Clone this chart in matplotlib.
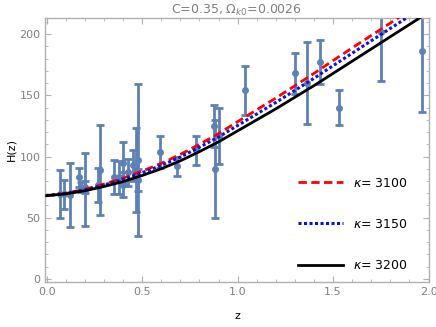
import numpy as np
import matplotlib
matplotlib.use("Agg")
import matplotlib.pyplot as plt

# observational H(z) points (cosmic chronometers)
z_obs = [0.07, 0.09, 0.12, 0.17, 0.179, 0.199, 0.2, 0.27, 0.28, 0.352, 0.3802,
         0.4, 0.4004, 0.4247, 0.4497, 0.47, 0.4783, 0.48, 0.593, 0.68, 0.781,
         0.875, 0.88, 0.9, 1.037, 1.3, 1.363, 1.43, 1.53, 1.75, 1.965]
H_obs = [69, 69, 68.6, 83, 75, 75, 72.9, 77, 88.8, 83, 83,
         95, 77, 87.1, 92.8, 89, 80.9, 97, 104, 92, 105,
         125, 90, 117, 154, 168, 160, 177, 140, 202, 186.5]
H_err = [19.6, 12, 26.2, 8, 4, 5, 29.6, 14, 36.6, 14, 13.5,
         17, 10.2, 11.2, 12.9, 34, 9, 62, 13, 8, 12,
         17, 40, 23, 20, 17, 33.6, 18, 14, 40, 50.4]

# model curves
z_fit = [0.0, 0.1, 0.2, 0.3, 0.4, 0.5, 0.6, 0.7, 0.8, 0.9, 1.0,
         1.1, 1.2, 1.3, 1.4, 1.5, 1.6, 1.7, 1.8, 1.9, 2.0]
H_3100 = [68, 70, 73.2, 77.5, 82.3, 88.1, 94.4, 101.7, 110, 118.8, 128.5,
          138.2, 147.8, 157.9, 168, 178.5, 188.8, 199, 209.2, 219.4, 229.6]
H_3150 = [68, 69.8, 72.7, 76.7, 81.2, 86.7, 92.7, 99.6, 107.6, 116, 125.4,
          134.8, 144.2, 154.1, 164, 174.3, 184.5, 194.7, 204.8, 214.9, 225]
H_3200 = [68, 69.5, 72, 75.5, 79.5, 84.5, 90, 96.5, 104, 112, 121,
          130, 139, 148.5, 158, 168, 178, 188, 198, 208, 218]

gray = "#7f7f7f"
fig = plt.figure(figsize=(4.36, 3.27), dpi=100)
ax = fig.add_axes([0.104, 0.138, 0.879, 0.807])

ax.errorbar(z_obs, H_obs, yerr=H_err, fmt="o", color="#5E81B5", ms=4,
            elinewidth=2, capsize=3, capthick=2, zorder=2)

ax.plot(z_fit, H_3100, color="red", ls=(0, (3, 1.6)), lw=2, label=r"$\kappa$= 3100", zorder=3)
ax.plot(z_fit, H_3150, color="#1010dd", ls=(0, (1, 0.8)), lw=2.2, label=r"$\kappa$= 3150", zorder=3)
ax.plot(z_fit, H_3200, color="black", lw=2, label=r"$\kappa$= 3200", zorder=3)

ax.set_xlim(-0.007, 2.0)
ax.set_ylim(-2.5, 213.3)
ax.set_xticks([0, 0.5, 1.0, 1.5, 2.0])
ax.set_xticks(np.arange(0, 2.01, 0.1), minor=True)
ax.set_yticks([0, 50, 100, 150, 200])
ax.set_yticks(np.arange(0, 211, 10), minor=True)
ax.xaxis.set_major_formatter(matplotlib.ticker.FormatStrFormatter("%.1f"))

for s in ax.spines.values():
    s.set_color("#b0b0b0")
    s.set_linewidth(1)
ax.tick_params(which="both", direction="in", top=True, right=True,
               color="#b0b0b0", labelcolor=gray, labelsize=8)
ax.tick_params(which="major", length=4)
ax.tick_params(which="minor", length=2)

ax.set_xlabel("z", fontsize=8, labelpad=10)
ax.set_ylabel("H(z)", fontsize=8, labelpad=2)
ax.set_title(r"C=0.35, $\Omega_{k0}$=0.0026", color=gray, fontsize=9, pad=3)

leg = ax.legend(loc="lower right", frameon=False, fontsize=9, handlelength=3.6,
                labelspacing=2.25, bbox_to_anchor=(0.975, -0.005))

fig.savefig("out.png", dpi=100)
